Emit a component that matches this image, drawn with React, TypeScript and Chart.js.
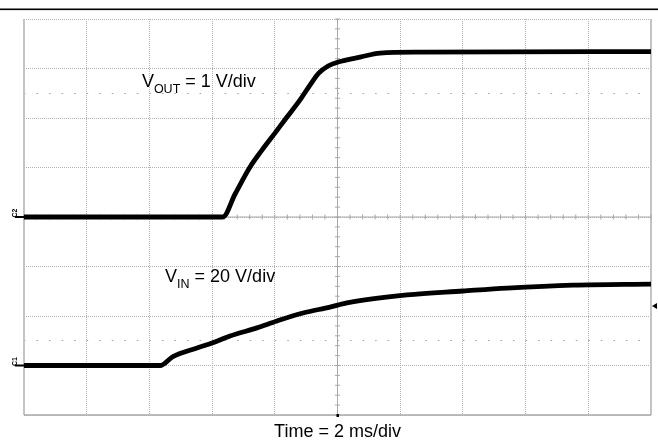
import React, { useEffect, useRef } from "react";
import { Chart, registerables } from "chart.js";

Chart.register(...registerables);

// Time axis: 2 ms/div, 10 divisions (-10 .. 10 ms)
const timeTicksMs = [-10, -8, -6, -4, -2, 0, 2, 4, 6, 8, 10];
// Vertical divisions (-4 .. 4 div); VOUT is 1 V/div with 0 V at centre
const divTicks = [-4, -3, -2, -1, 0, 1, 2, 3, 4];
// Scope marker lines at ±2.5 div
const markerLevels = [-2.5, 2.5];

// VOUT (1 V/div)
const voutTimeMs = [-10, -3.66, -3.27, -2.79, -2.41, -1.99, -1.61, -1.2, -0.85, -0.59, -0.3, 0.02, 0.72, 1.36, 2.63, 10];
const voutVolts = [0, 0, 0.46, 1.01, 1.35, 1.7, 2.02, 2.36, 2.69, 2.91, 3.05, 3.13, 3.23, 3.31, 3.33, 3.34];

// VIN (20 V/div, 0 V one division above the bottom)
const vinTimeMs = [-10, -5.66, -5.25, -4.48, -4.0, -3.43, -2.57, -1.93, -1.1, -0.24, 0.3, 2.22, 4.0, 5.41, 7.51, 10];
const vinVolts = [0, 0, 3.6, 7.1, 9.1, 11.9, 15.2, 18.0, 21.2, 23.6, 25.3, 28.5, 30.1, 31.3, 32.5, 32.9];

const timeLabel = "Time = 2 ms/div";
const voutLabel = { main: "V", sub: "OUT", rest: " = 1 V/div", t: -6.24, div: 2.63 };
const vinLabel = { main: "V", sub: "IN", rest: " = 20 V/div", t: -5.5, div: -1.31 };

const FONT = "'Liberation Sans', Arial, sans-serif";

const scopePlugin = {
  id: "scopeDecor",
  beforeDatasetsDraw(chart: any) {
    const { ctx, chartArea: a, scales } = chart;
    const x = scales.x;
    const y = scales.y;
    ctx.save();
    // borders
    ctx.strokeStyle = "#c4c4c4";
    ctx.lineWidth = 2;
    ctx.beginPath();
    ctx.moveTo(a.left, a.top);
    ctx.lineTo(a.left, a.bottom);
    ctx.moveTo(a.right, a.top);
    ctx.lineTo(a.right, a.bottom);
    ctx.stroke();
    ctx.strokeStyle = "#aaaaaa";
    ctx.lineWidth = 1.5;
    ctx.beginPath();
    ctx.moveTo(a.left, a.bottom);
    ctx.lineTo(a.right, a.bottom);
    ctx.stroke();
    // centre cross
    const cx = x.getPixelForValue(0);
    const cy = y.getPixelForValue(0);
    ctx.strokeStyle = "#a8a8a8";
    ctx.lineWidth = 1;
    ctx.beginPath();
    ctx.moveTo(cx, a.top);
    ctx.lineTo(cx, a.bottom);
    ctx.moveTo(a.left, cy);
    ctx.lineTo(a.right, cy);
    // minor ticks (5 per division)
    for (let t = -10; t <= 10.001; t += 0.4) {
      const px = x.getPixelForValue(t);
      ctx.moveTo(px, cy - 2.5);
      ctx.lineTo(px, cy + 2.5);
    }
    for (let d = -4; d <= 4.001; d += 0.2) {
      const py = y.getPixelForValue(d);
      ctx.moveTo(cx - 2.5, py);
      ctx.lineTo(cx + 2.5, py);
    }
    ctx.stroke();
    ctx.restore();
  },
  afterDatasetsDraw(chart: any) {
    const { ctx, chartArea: a, scales, width } = chart;
    const x = scales.x;
    const y = scales.y;
    ctx.save();
    // top rule
    ctx.fillStyle = "#000";
    ctx.fillRect(0, 8.5, width, 1.6);
    // labels
    const drawSub = (l: any) => {
      let px = x.getPixelForValue(l.t);
      const py = y.getPixelForValue(l.div);
      ctx.fillStyle = "#000";
      ctx.textBaseline = "alphabetic";
      ctx.textAlign = "left";
      ctx.font = `18px ${FONT}`;
      ctx.fillText(l.main, px, py);
      px += ctx.measureText(l.main).width;
      ctx.font = `12.5px ${FONT}`;
      ctx.fillText(l.sub, px, py + 6);
      px += ctx.measureText(l.sub).width;
      ctx.font = `18px ${FONT}`;
      ctx.fillText(l.rest, px, py);
    };
    drawSub(voutLabel);
    drawSub(vinLabel);
    ctx.font = `18px ${FONT}`;
    ctx.textAlign = "center";
    ctx.fillStyle = "#000";
    ctx.fillText(timeLabel, x.getPixelForValue(0), a.bottom + 22);
    // trigger mark at bottom centre
    ctx.fillRect(x.getPixelForValue(0) - 1, a.bottom - 1, 2.5, 3);
    // channel markers
    const ch = (name: string, v: number, scaleId: string) => {
      const py = scales[scaleId].getPixelForValue(v);
      ctx.save();
      ctx.translate(a.left - 5, py - 4);
      ctx.rotate(-Math.PI / 2);
      ctx.font = `bold 7px ${FONT}`;
      ctx.textAlign = "center";
      ctx.textBaseline = "bottom";
      ctx.fillText(name, 0, 0);
      ctx.restore();
      ctx.fillRect(a.left - 9, py - 1, 9, 2);
    };
    ch("C2", 0, "y");
    ch("C1", 0, "y2");
    // trigger level marker on the right
    const ty = scales.y2.getPixelForValue(24);
    ctx.beginPath();
    ctx.moveTo(a.right + 1, ty);
    ctx.lineTo(a.right + 6, ty - 3);
    ctx.lineTo(a.right + 6, ty + 3);
    ctx.closePath();
    ctx.fill();
    ctx.restore();
  },
};

export default function App() {
  const ref = useRef<HTMLCanvasElement | null>(null);
  useEffect(() => {
    if (!ref.current) return;
    const chart = new Chart(ref.current, {
      type: "line",
      data: {
        datasets: [
          {
            label: "VOUT",
            data: voutTimeMs.map((t, i) => ({ x: t, y: voutVolts[i] })),
            borderColor: "#000",
            borderWidth: 4.8,
            pointRadius: 0,
            cubicInterpolationMode: "monotone",
            yAxisID: "y",
            borderJoinStyle: "round",
          },
          {
            label: "VIN",
            data: vinTimeMs.map((t, i) => ({ x: t, y: vinVolts[i] })),
            borderColor: "#000",
            borderWidth: 4.8,
            pointRadius: 0,
            cubicInterpolationMode: "monotone",
            yAxisID: "y2",
            borderJoinStyle: "round",
          },
        ],
      },
      options: {
        animation: false,
        responsive: false,
        devicePixelRatio: 1,
        layout: { padding: { left: 24, right: 7, top: 19, bottom: 27 } },
        plugins: { legend: { display: false }, tooltip: { enabled: false } },
        scales: {
          x: {
            type: "linear",
            min: timeTicksMs[0],
            max: timeTicksMs[timeTicksMs.length - 1],
            afterBuildTicks: (s: any) => {
              s.ticks = timeTicksMs.map((v) => ({ value: v }));
            },
            ticks: { display: false },
            grid: { color: "#b2b2b2", lineWidth: 1, drawTicks: false },
            border: { display: false, dash: [1, 1] },
          },
          y: {
            type: "linear",
            min: divTicks[0],
            max: divTicks[divTicks.length - 1],
            afterBuildTicks: (s: any) => {
              s.ticks = divTicks.map((v) => ({ value: v }));
            },
            ticks: { display: false },
            grid: { color: "#b2b2b2", lineWidth: 1, drawTicks: false },
            border: { display: false, dash: [1, 1] },
          },
          ymark: {
            type: "linear",
            position: "left",
            min: divTicks[0],
            max: divTicks[divTicks.length - 1],
            afterBuildTicks: (s: any) => {
              s.ticks = markerLevels.map((v) => ({ value: v }));
            },
            ticks: { display: false },
            grid: { color: "#a0a0a0", lineWidth: 1, drawTicks: false },
            border: { display: false, dash: [1.5, 11.04] },
          },
          y2: {
            type: "linear",
            display: false,
            min: -20,
            max: 140,
          },
        },
      },
      plugins: [scopePlugin],
    } as any);
    return () => chart.destroy();
  }, []);
  return (
    <div style={{ position: "fixed", left: 0, top: 0, width: 658, height: 442, background: "#fff" }}>
      <canvas ref={ref} width={658} height={442} />
    </div>
  );
}
